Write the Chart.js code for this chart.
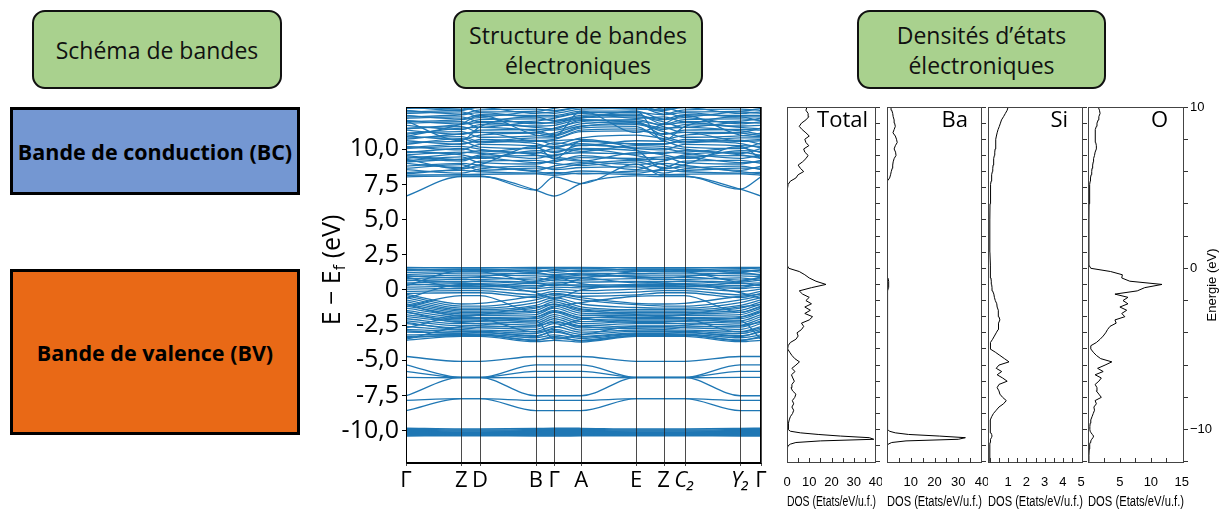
<!DOCTYPE html>
<html>
<head>
<meta charset="utf-8">
<script src="https://cdn.jsdelivr.net/npm/chart.js@4.4.1/dist/chart.umd.min.js"></script>
<style>
  body { margin: 0; width: 1222px; height: 509px; background: #fff; position: relative; overflow: hidden; font-family: 'Open Sans', sans-serif; }
  .tag { position: absolute; top: 10px; height: 79px; box-sizing: border-box; background: #a9d18e; border: 2px solid #111; border-radius: 13px;
         display: flex; align-items: center; justify-content: center; text-align: center; font-size: 23px; line-height: 30px; color: #111; }
  .bande { position: absolute; left: 10px; width: 290px; box-sizing: border-box; border: 3px solid #000;
           display: flex; align-items: center; justify-content: center; font-weight: bold; font-size: 21.5px; color: #000; white-space: nowrap; }
  canvas { position: absolute; }
</style>
</head>
<body>
<div class="tag" style="left:32px;width:250px;">Schéma de bandes</div>
<div class="tag" style="left:453px;width:250px;">Structure de bandes<br>électroniques</div>
<div class="tag" style="left:857px;width:249px;">Densités d’états<br>électroniques</div>

<div class="bande" style="top:107px;height:88px;background:#7497d2;">Bande de conduction (BC)</div>
<div class="bande" style="top:269px;height:166px;background:#e96916;">Bande de valence (BV)</div>

<canvas id="bands" width="470" height="409" style="left:300px;top:100px;"></canvas>
<canvas id="dosTotal" width="103" height="409" style="left:779px;top:100px;"></canvas>
<canvas id="dosBa" width="109" height="409" style="left:879px;top:100px;"></canvas>
<canvas id="dosSi" width="109" height="409" style="left:980px;top:100px;"></canvas>
<canvas id="dosO" width="142" height="409" style="left:1080px;top:100px;"></canvas>

<script>
// ---- structure de bandes : points k et énergies (eV) ----
const kPos = [0, 55.3, 74, 129.7, 148, 175, 230, 257.3, 278.3, 334, 354.7];
const kLabels = ['Γ', 'Z', 'D', 'B', 'Γ', 'A', 'E', 'Z', 'C₂', 'Y₂', 'Γ'];
const yTicks = [-10, -7.5, -5, -2.5, 0, 2.5, 5, 7.5, 10];

// bas de la bande de conduction
const bandsCondLow = [
  [6.67, 8.06, 8.06, 7.10, 6.67, 7.56, 8.10, 8.06, 8.06, 7.16, 6.67],
  [8.04, 8.10, 8.10, 7.10, 8.04, 7.56, 8.95, 8.10, 8.10, 7.16, 8.04]
];
// bandes de conduction denses
const bandsCond = [
  [8.15, 8.20, 8.22, 8.25, 8.15, 8.30, 8.20, 8.20, 8.22, 8.25, 8.15],
  [8.35, 8.50, 8.40, 8.30, 8.35, 8.25, 8.45, 8.50, 8.40, 8.30, 8.35],
  [8.55, 8.30, 8.60, 8.80, 8.55, 8.70, 8.75, 8.30, 8.60, 8.80, 8.55],
  [8.80, 9.00, 8.85, 8.50, 8.80, 9.05, 8.55, 9.00, 8.85, 8.50, 8.80],
  [9.00, 8.70, 9.15, 9.20, 9.00, 8.85, 9.10, 8.70, 9.15, 9.20, 9.00],
  [9.20, 9.45, 9.05, 8.95, 9.20, 9.40, 9.35, 9.45, 9.05, 8.95, 9.20],
  [9.45, 9.15, 9.50, 9.55, 9.45, 9.20, 8.90, 9.15, 9.50, 9.55, 9.45],
  [9.60, 9.80, 9.70, 9.35, 9.60, 9.75, 9.65, 9.80, 9.70, 9.35, 9.60],
  [9.85, 9.60, 9.35, 9.90, 9.85, 10.05, 9.90, 9.60, 9.35, 9.90, 9.85],
  [10.05, 10.20, 10.00, 9.70, 10.05, 9.85, 10.25, 10.20, 10.00, 9.70, 10.05],
  [10.20, 9.95, 10.35, 10.25, 10.20, 10.40, 10.05, 9.95, 10.35, 10.25, 10.20],
  [10.45, 10.55, 10.15, 10.05, 10.45, 10.25, 10.60, 10.55, 10.15, 10.05, 10.45],
  [10.60, 10.35, 10.70, 10.55, 10.60, 10.70, 10.35, 10.35, 10.70, 10.55, 10.60],
  [10.80, 10.90, 10.55, 10.80, 10.80, 11.35, 11.45, 10.90, 10.55, 10.80, 10.80],
  [10.95, 10.70, 11.00, 11.15, 10.95, 11.50, 11.60, 10.70, 11.00, 11.15, 10.95],
  [11.15, 11.25, 10.85, 10.95, 11.15, 11.65, 11.75, 11.25, 10.85, 10.95, 11.15],
  [11.35, 11.05, 11.35, 11.40, 11.35, 11.80, 11.95, 11.05, 11.35, 11.40, 11.35],
  [11.50, 11.60, 11.20, 11.20, 11.50, 11.95, 12.10, 11.60, 11.20, 11.20, 11.50],
  [11.70, 11.40, 11.75, 11.65, 11.70, 12.10, 11.85, 11.40, 11.75, 11.65, 11.70],
  [11.85, 11.95, 11.55, 11.90, 11.85, 12.25, 12.30, 11.95, 11.55, 11.90, 11.85],
  [12.05, 11.80, 12.10, 12.15, 12.05, 12.40, 12.50, 11.80, 12.10, 12.15, 12.05],
  [12.20, 12.30, 11.95, 12.00, 12.20, 12.55, 12.20, 12.30, 11.95, 12.00, 12.20],
  [12.40, 12.15, 12.45, 12.40, 12.40, 12.70, 12.70, 12.15, 12.45, 12.40, 12.40],
  [12.55, 12.65, 12.30, 12.65, 12.55, 12.85, 12.90, 12.65, 12.30, 12.65, 12.55],
  [12.75, 12.50, 12.80, 12.85, 12.75, 13.00, 13.05, 12.50, 12.80, 12.85, 12.75],
  [12.90, 13.00, 12.65, 12.70, 12.90, 13.15, 13.20, 13.00, 12.65, 12.70, 12.90],
  [13.10, 12.85, 13.15, 13.10, 13.10, 13.30, 13.35, 12.85, 13.15, 13.10, 13.10],
  [9.30, 8.60, 8.90, 10.20, 9.30, 10.60, 9.95, 8.60, 8.90, 10.20, 9.30],
  [10.90, 11.80, 12.40, 11.00, 10.90, 12.70, 11.20, 11.80, 12.40, 11.00, 10.90],
  [12.00, 10.60, 11.60, 12.30, 12.00, 12.20, 12.70, 10.60, 11.60, 12.30, 12.00],
  [8.25, 8.60, 8.75, 8.40, 8.25, 8.45, 8.30, 8.60, 8.75, 8.40, 8.25],
  [8.65, 8.90, 8.50, 8.65, 8.65, 8.95, 9.20, 8.90, 8.50, 8.65, 8.65],
  [9.10, 9.30, 9.40, 9.05, 9.10, 9.55, 9.25, 9.30, 9.40, 9.05, 9.10],
  [9.35, 9.70, 9.90, 9.60, 9.35, 9.15, 9.75, 9.70, 9.90, 9.60, 9.35],
  [9.75, 10.05, 9.80, 10.10, 9.75, 10.30, 10.10, 10.05, 9.80, 10.10, 9.75],
  [10.10, 10.40, 10.55, 10.40, 10.10, 10.55, 10.40, 10.40, 10.55, 10.40, 10.10],
  [10.35, 10.75, 10.45, 10.65, 10.35, 10.80, 11.00, 10.75, 10.45, 10.65, 10.35],
  [10.70, 11.10, 11.20, 10.60, 10.70, 11.25, 11.30, 11.10, 11.20, 10.60, 10.70],
  [11.05, 11.50, 11.55, 11.30, 11.05, 11.60, 11.85, 11.50, 11.55, 11.30, 11.05],
  [11.45, 11.75, 11.90, 11.55, 11.45, 12.05, 12.00, 11.75, 11.90, 11.55, 11.45],
  [11.95, 12.10, 12.25, 11.80, 11.95, 12.30, 12.40, 12.10, 12.25, 11.80, 11.95],
  [12.30, 12.45, 12.60, 12.30, 12.30, 12.60, 12.60, 12.45, 12.60, 12.30, 12.30],
  [12.65, 12.80, 12.95, 12.55, 12.65, 12.95, 12.85, 12.80, 12.95, 12.55, 12.65],
  [13.00, 12.75, 13.05, 13.00, 13.00, 13.25, 13.10, 12.75, 13.05, 13.00, 13.00],
  [9.55, 9.25, 9.60, 9.80, 9.55, 10.00, 9.55, 9.25, 9.60, 9.80, 9.55]
];
// bandes de valence
const bandsVal = [
  [1.60, 1.58, 1.58, 1.60, 1.60, 1.60, 1.58, 1.58, 1.58, 1.60, 1.60],
  [1.50, 1.45, 1.45, 1.52, 1.50, 1.50, 1.45, 1.45, 1.45, 1.52, 1.50],
  [1.38, 1.50, 1.50, 1.35, 1.38, 1.32, 1.50, 1.50, 1.50, 1.35, 1.38],
  [1.25, 1.30, 1.30, 1.42, 1.25, 1.40, 1.30, 1.30, 1.30, 1.42, 1.25],
  [1.10, 1.20, 1.20, 1.15, 1.10, 1.20, 1.15, 1.20, 1.20, 1.15, 1.10],
  [0.95, 1.05, 1.05, 1.00, 0.95, 0.90, 1.05, 1.05, 1.05, 1.00, 0.95],
  [0.80, 0.90, 0.90, 0.70, 0.80, 1.05, 0.95, 0.90, 0.90, 0.70, 0.80],
  [0.65, 0.75, 0.75, 0.85, 0.65, 0.70, 0.80, 0.75, 0.75, 0.85, 0.65],
  [0.50, 0.60, 0.60, 0.45, 0.50, 0.55, 0.60, 0.60, 0.60, 0.45, 0.50],
  [0.35, 0.45, 0.45, 0.30, 0.35, 0.35, 0.40, 0.45, 0.45, 0.30, 0.35],
  [0.20, 0.25, 0.25, 0.10, 0.20, 0.15, 0.25, 0.25, 0.25, 0.10, 0.20],
  [0.05, 0.10, 0.10, -0.10, 0.05, -0.05, 0.05, 0.10, 0.10, -0.10, 0.05],
  [-0.10, -0.05, -0.05, -0.35, -0.10, -0.25, -0.15, -0.05, -0.05, -0.35, -0.10],
  [-0.25, -0.20, -0.20, -0.55, -0.25, -0.45, -0.35, -0.20, -0.20, -0.55, -0.25],
  [-0.40, -1.15, -1.15, -0.70, -0.40, -0.70, -1.05, -1.15, -1.15, -0.70, -0.40],
  [-0.55, -1.30, -1.30, -0.90, -0.55, -1.00, -1.25, -1.30, -1.30, -0.90, -0.55],
  [-0.70, -1.40, -1.40, -1.10, -0.70, -1.20, -1.40, -1.40, -1.40, -1.10, -0.70],
  [-0.85, -1.50, -1.50, -1.30, -0.85, -1.35, -1.50, -1.50, -1.50, -1.30, -0.85],
  [-1.00, -1.60, -1.60, -1.45, -1.00, -1.50, -1.60, -1.60, -1.60, -1.45, -1.00],
  [-1.15, -1.70, -1.70, -1.60, -1.15, -1.65, -1.70, -1.70, -1.70, -1.60, -1.15],
  [-1.30, -1.80, -1.80, -1.75, -1.30, -1.80, -1.80, -1.80, -1.80, -1.75, -1.30],
  [-1.45, -1.95, -1.95, -1.90, -1.45, -1.95, -1.95, -1.95, -1.95, -1.90, -1.45],
  [-1.60, -2.05, -2.05, -2.05, -1.60, -2.10, -2.05, -2.05, -2.05, -2.05, -1.60],
  [-1.75, -2.15, -2.15, -2.20, -1.75, -2.25, -2.15, -2.15, -2.15, -2.20, -1.75],
  [-1.90, -2.25, -2.25, -2.35, -1.90, -2.40, -2.25, -2.25, -2.25, -2.35, -1.90],
  [-2.05, -2.40, -2.40, -2.50, -2.05, -2.55, -2.40, -2.40, -2.40, -2.50, -2.05],
  [-2.20, -2.55, -2.55, -2.65, -2.20, -2.70, -2.55, -2.55, -2.55, -2.65, -2.20],
  [-2.40, -2.70, -2.70, -2.80, -2.40, -2.85, -2.70, -2.70, -2.70, -2.80, -2.40],
  [-2.60, -2.85, -2.85, -2.95, -2.60, -3.00, -2.85, -2.85, -2.85, -2.95, -2.60],
  [-2.80, -2.95, -2.95, -3.10, -2.80, -3.15, -2.95, -2.95, -2.95, -3.10, -2.80],
  [-3.00, -3.05, -3.05, -3.25, -3.00, -3.30, -3.05, -3.05, -3.05, -3.25, -3.00],
  [-3.20, -3.15, -3.15, -3.40, -3.20, -3.45, -3.15, -3.15, -3.15, -3.40, -3.20],
  [-3.40, -3.22, -3.22, -3.55, -3.40, -3.58, -3.22, -3.22, -3.22, -3.55, -3.40],
  [-3.58, -3.30, -3.30, -3.68, -3.58, -3.70, -3.30, -3.30, -3.30, -3.68, -3.58],
  [0.90, 0.20, 0.20, 0.60, 0.90, 0.45, 0.20, 0.20, 0.20, 0.60, 0.90],
  [-0.60, 0.40, 0.40, -0.20, -0.60, 0.00, 0.35, 0.40, 0.40, -0.20, -0.60],
  [-1.20, -0.40, -0.40, -1.60, -1.20, -0.90, -0.45, -0.40, -0.40, -1.60, -1.20],
  [-2.70, -1.90, -2.00, -3.00, -2.70, -2.10, -1.85, -1.90, -2.00, -3.00, -2.70],
  [-3.50, -2.60, -2.50, -2.20, -3.50, -3.20, -2.60, -2.60, -2.50, -2.20, -3.50],
  [0.30, 1.35, 1.30, 0.50, 0.30, 0.80, 1.30, 1.35, 1.30, 0.50, 0.30],
  [1.45, 1.35, 1.40, 1.28, 1.45, 1.55, 1.38, 1.35, 1.40, 1.28, 1.45],
  [1.02, 0.85, 0.95, 1.25, 1.02, 1.12, 0.90, 0.85, 0.95, 1.25, 1.02],
  [0.72, 0.55, 0.65, 0.55, 0.72, 0.85, 0.50, 0.55, 0.65, 0.55, 0.72],
  [0.42, 0.30, 0.35, 0.20, 0.42, 0.25, 0.30, 0.30, 0.35, 0.20, 0.42],
  [-0.30, -1.00, -0.95, -0.45, -0.30, -0.55, -0.95, -1.00, -0.95, -0.45, -0.30],
  [-1.05, -1.85, -1.75, -1.20, -1.05, -1.40, -1.75, -1.85, -1.75, -1.20, -1.05],
  [-1.55, -2.30, -2.20, -1.95, -1.55, -2.00, -2.30, -2.30, -2.20, -1.95, -1.55],
  [-2.30, -2.80, -2.65, -2.55, -2.30, -2.60, -2.75, -2.80, -2.65, -2.55, -2.30],
  [-2.90, -3.10, -3.00, -3.30, -2.90, -3.35, -3.10, -3.10, -3.00, -3.30, -2.90],
  [-3.30, -3.25, -3.20, -3.60, -3.30, -3.62, -3.25, -3.25, -3.20, -3.60, -3.30]
];
// bandes isolées entre -4,7 et -8,6 eV
const bandsSemi = [
  [-4.73, -5.08, -5.08, -4.73, -4.73, -4.73, -5.08, -5.08, -5.08, -4.73, -4.73],
  [-5.32, -6.22, -6.22, -5.32, -5.32, -5.32, -6.22, -6.22, -6.22, -5.32, -5.32],
  [-5.79, -6.22, -6.22, -5.79, -5.79, -5.79, -6.22, -6.22, -6.22, -5.79, -5.79],
  [-6.22, -6.24, -6.24, -6.22, -6.22, -6.22, -6.24, -6.24, -6.24, -6.22, -6.22],
  [-7.52, -6.22, -6.22, -7.52, -7.52, -7.52, -6.22, -6.22, -6.22, -7.52, -7.52],
  [-7.85, -7.73, -7.73, -7.85, -7.85, -7.85, -7.73, -7.73, -7.73, -7.85, -7.85],
  [-8.58, -7.73, -7.73, -8.58, -8.58, -8.58, -7.73, -7.73, -7.73, -8.58, -8.58]
];
// bandes Ba 5p vers -10 eV
const bandsBa5p = [
  [-9.83, -9.88, -9.88, -9.85, -9.83, -9.84, -9.88, -9.88, -9.88, -9.85, -9.83],
  [-9.90, -9.96, -9.96, -9.92, -9.90, -9.91, -9.96, -9.96, -9.96, -9.92, -9.90],
  [-9.97, -10.03, -10.03, -9.99, -9.97, -9.98, -10.03, -10.03, -10.03, -9.99, -9.97],
  [-10.04, -10.09, -10.09, -10.06, -10.04, -10.05, -10.09, -10.09, -10.09, -10.06, -10.04],
  [-10.11, -10.15, -10.15, -10.12, -10.11, -10.11, -10.15, -10.15, -10.15, -10.12, -10.11],
  [-10.18, -10.21, -10.21, -10.19, -10.18, -10.18, -10.21, -10.21, -10.21, -10.19, -10.18],
  [-10.25, -10.27, -10.27, -10.26, -10.25, -10.25, -10.27, -10.27, -10.27, -10.26, -10.25],
  [-10.33, -10.31, -10.31, -10.33, -10.33, -10.32, -10.31, -10.31, -10.31, -10.33, -10.33],
  [-10.38, -10.36, -10.36, -10.38, -10.38, -10.37, -10.36, -10.36, -10.36, -10.38, -10.38]
];

// ---- densités d'états : grille en énergie (eV) et DOS (états/eV/u.f.) ----
const dosE = [
  -12.0, -11.6, -11.2, -11.0,
  -10.9, -10.8, -10.7, -10.6, -10.5, -10.4, -10.3, -10.2, -10.1, -10.0,
  -9.8, -9.6, -9.4, -9.2, -9.0, -8.8, -8.6, -8.4, -8.2, -8.0,
  -7.8, -7.6, -7.4, -7.2, -7.0, -6.8, -6.6, -6.4, -6.2, -6.0,
  -5.8, -5.6, -5.4, -5.2, -5.0, -4.8, -4.6, -4.4, -4.2, -4.0,
  -3.8, -3.6, -3.4, -3.2, -3.0, -2.8, -2.6, -2.4, -2.2, -2.0,
  -1.8, -1.6, -1.4, -1.2, -1.0, -0.8, -0.6, -0.4, -0.2, 0.0,
  0.2, 1.0, 2.0, 3.0, 4.0, 4.8,
  5.2, 5.4, 5.6, 5.8, 6.0, 6.2, 6.4, 6.6, 6.8, 7.0,
  7.2, 7.4, 7.6, 7.8, 8.0, 8.2, 8.4, 8.6, 8.8, 9.0,
  9.2, 9.4, 9.6, 9.8, 10.0
];
const dosTotal = [
  0, 0, 0.1, 0.5,
  1.5, 4, 15, 39, 37, 24, 14, 6, 1.5, 0.6,
  0.5, 0.8, 1.0, 1.5, 2.5, 3.0, 2.2, 3.0, 2.4, 3.5,
  4.0, 2.5, 1.8, 2.2, 3.3, 2.6, 2.0, 3.6, 2.2, 4.0,
  5.6, 3.5, 2.2, 1.2, 0.3, 0.5, 1.5, 4.0, 5.0, 4.5,
  6.5, 7.5, 6.5, 10.0, 11.5, 8.0, 10.5, 8.0, 11.0, 8.5,
  10.0, 7.0, 5.5, 11.0, 17.5, 13.0, 10.0, 8.0, 5.5, 0.8,
  0, 0, 0, 0, 0.05, 0.2,
  0.5, 1.5, 4.0, 5.0, 7.5, 6.0, 5.0, 7.0, 8.5, 9.5,
  8.0, 7.5, 9.8, 8.5, 8.0, 10.0, 8.5, 6.8, 5.5, 6.5,
  8.5, 9.8, 9.5, 8.5, 9.0
];
const dosBa = [
  0, 0, 0, 0.2,
  0.5, 2, 8, 30, 33, 22, 9, 3.5, 1, 0.4,
  0.2, 0.2, 0.2, 0.2, 0.2, 0.2, 0.2, 0.2, 0.2, 0.2,
  0.2, 0.2, 0.2, 0.2, 0.2, 0.2, 0.2, 0.2, 0.2, 0.2,
  0.2, 0.2, 0.2, 0.2, 0.2, 0.2, 0.2, 0.3, 0.3, 0.3,
  0.3, 0.3, 0.3, 0.35, 0.35, 0.3, 0.35, 0.3, 0.35, 0.3,
  0.35, 0.3, 0.4, 0.6, 0.8, 0.6, 0.4, 0.3, 0.2, 0.05,
  0, 0, 0, 0, 0, 0.02,
  0.05, 0.3, 1.1, 1.5, 1.8, 2.2, 2.4, 2.6, 3.0, 3.8,
  3.6, 3.0, 3.5, 4.3, 4.0, 3.5, 2.5, 3.0, 3.5, 3.2,
  3.0, 2.6, 2.4, 2.0, 1.7
];
const dosSi = [
  0, 0, 0, 0,
  0, 0.01, 0.02, 0.05, 0.09, 0.12, 0.1, 0.06, 0.03, 0.02,
  0.02, 0.02, 0.04, 0.1, 0.2, 0.35, 0.5, 0.75, 0.9, 0.7,
  0.55, 0.5, 0.4, 0.5, 0.95, 0.7, 0.4, 0.65, 0.35, 0.5,
  1.05, 0.8, 0.55, 0.3, 0.02, 0.02, 0.05, 0.15, 0.25, 0.35,
  0.45, 0.5, 0.45, 0.55, 0.5, 0.45, 0.48, 0.4, 0.38, 0.3,
  0.25, 0.22, 0.15, 0.12, 0.1, 0.08, 0.06, 0.05, 0.04, 0.02,
  0.01, 0.005, 0, 0, 0.01, 0.03,
  0.05, 0.07, 0.09, 0.11, 0.14, 0.16, 0.18, 0.2, 0.22, 0.25,
  0.27, 0.29, 0.31, 0.33, 0.33, 0.36, 0.4, 0.45, 0.52, 0.58,
  0.64, 0.75, 0.85, 0.95, 1.0
];
const dosO = [
  0, 0, 0.05, 0.1,
  0.15, 0.2, 0.3, 0.45, 0.65, 0.75, 0.55, 0.35, 0.2, 0.15,
  0.15, 0.2, 0.3, 0.5, 0.7, 0.9, 0.8, 1.2, 1.0, 2.0,
  1.6, 1.2, 1.3, 1.0, 1.6, 2.0, 1.0, 2.3, 1.4, 2.6,
  3.7, 1.9, 1.2, 0.7, 0.3, 0.3, 1.2, 1.8, 2.3, 2.7,
  3.0, 3.4, 4.4, 4.2, 5.8, 5.3, 6.1, 5.0, 6.3, 5.5,
  6.3, 4.2, 7.8, 9.0, 11.8, 6.6, 5.3, 5.4, 3.5, 0.3,
  0, 0, 0, 0, 0.02, 0.08,
  0.15, 0.2, 0.25, 0.35, 0.45, 0.5, 0.6, 0.7, 0.75, 0.9,
  1.0, 1.2, 1.2, 1.1, 1.0, 1.0, 1.0, 1.1, 1.2, 1.3,
  1.5, 1.6, 1.8, 1.7, 1.5
];
const dosTickLabels = {
  total: [0, 10, 20, 30, 40],
  ba: [10, 20, 30, 40],
  si: [1, 2, 3, 4, 5],
  o: [5, 10, 15]
};
const energyTickLabels = [-10, -5, 0, 5, 10];

Chart.defaults.font.family = "'Open Sans', sans-serif";
Chart.defaults.color = '#000';
const narrow = "'Liberation Sans Narrow', 'Liberation Sans', sans-serif";

// cadre autour de la zone du graphe
const frame = {
  id: 'frame',
  afterDraw(chart, args, opts) {
    const { ctx, chartArea: a } = chart;
    ctx.save();
    ctx.strokeStyle = opts.color || '#000';
    ctx.lineWidth = 1;
    ctx.strokeRect(Math.round(a.left) + 0.5, Math.round(a.top) + 0.5, Math.round(a.width) - 1, Math.round(a.height) - 1);
    ctx.restore();
  }
};

// lignes verticales aux points de haute symétrie, par-dessus les bandes
const kLines = {
  id: 'kLines',
  afterDatasetsDraw(chart) {
    const { ctx, chartArea: a, scales: { x } } = chart;
    ctx.save();
    ctx.strokeStyle = 'rgba(30,30,30,0.8)';
    ctx.lineWidth = 1;
    kPos.forEach(k => {
      const px = Math.round(x.getPixelForValue(k)) + 0.5;
      ctx.beginPath();
      ctx.moveTo(px, a.top);
      ctx.lineTo(px, a.bottom + 3);
      ctx.stroke();
    });
    ctx.restore();
  }
};

// titre de l'axe y avec l'indice f
const yTitle = {
  id: 'yTitle',
  afterDraw(chart) {
    const ctx = chart.ctx;
    const big = "25px 'Open Sans'", small = "16px 'Open Sans'";
    const parts = [['E − E', big, 0], ['f', small, 7], [' (eV)', big, 0]];
    ctx.save();
    ctx.translate(33, 170);
    ctx.rotate(-Math.PI / 2);
    ctx.fillStyle = '#000';
    ctx.textBaseline = 'middle';
    let w = 0;
    parts.forEach(p => { ctx.font = p[1]; w += ctx.measureText(p[0]).width; });
    let x = -w / 2;
    parts.forEach(p => { ctx.font = p[1]; ctx.fillText(p[0], x, p[2]); x += ctx.measureText(p[0]).width; });
    ctx.restore();
  }
};

const bandStyle = { borderColor: '#1f77b4', borderWidth: 1.3, pointRadius: 0, showLine: true, cubicInterpolationMode: 'monotone' };
const allBands = [...bandsCondLow, ...bandsCond, ...bandsVal, ...bandsSemi];

new Chart(document.getElementById('bands'), {
  type: 'scatter',
  data: {
    datasets: allBands.map(b => ({ ...bandStyle, data: b.map((e, i) => ({ x: kPos[i], y: e })) }))
      .concat(bandsBa5p.map(b => ({ ...bandStyle, borderWidth: 1.5, data: b.map((e, i) => ({ x: kPos[i], y: e })) })))
  },
  options: {
    responsive: false,
    animation: false,
    layout: { padding: { top: 7, right: 9, left: 0, bottom: 0 } },
    plugins: { legend: { display: false }, tooltip: { enabled: false }, frame: { color: '#000' } },
    scales: {
      x: {
        type: 'linear', min: 0, max: kPos[kPos.length - 1],
        afterBuildTicks: s => { s.ticks = kPos.map(v => ({ value: v })); },
        afterFit: s => { s.height = 46; s.paddingLeft = 0; s.paddingRight = 0; },
        grid: { drawOnChartArea: false, drawTicks: false },
        border: { color: '#000' },
        ticks: {
          autoSkip: false, maxRotation: 0, padding: 5,
          callback: (v, i) => kLabels[i],
          font: c => ({ family: "'Open Sans'", size: 22, style: (c.index === 8 || c.index === 9) ? 'italic' : 'normal' })
        }
      },
      y: {
        min: -12.3, max: 13,
        afterBuildTicks: s => { s.ticks = yTicks.map(v => ({ value: v })); },
        afterFit: s => { s.width = 106; s.paddingTop = 0; s.paddingBottom = 0; },
        grid: { drawOnChartArea: false, drawTicks: true, tickLength: 4, color: '#000' },
        border: { color: '#000' },
        ticks: {
          padding: 3, font: { size: 25 },
          callback: v => v === 0 ? '0' : v.toFixed(1).replace('.', ',')
        }
      }
    }
  },
  plugins: [kLines, frame, yTitle]
});

// petites graduations vers l'intérieur en bas de chaque panneau DOS
const innerTicks = {
  id: 'innerTicks',
  afterDraw(chart) {
    const { ctx, chartArea: a, scales: { x } } = chart;
    ctx.save();
    ctx.strokeStyle = '#333';
    ctx.lineWidth = 1;
    x.ticks.forEach(t => {
      const px = Math.round(x.getPixelForValue(t.value)) + 0.5;
      if (px <= a.left + 2 || px >= a.right - 2) return;
      ctx.beginPath();
      ctx.moveTo(px, a.bottom);
      ctx.lineTo(px, a.bottom - 5);
      ctx.stroke();
    });
    ctx.restore();
  }
};

// nom du panneau (Total, Ba, Si, O) et titre de l'axe des énergies
const panelName = {
  id: 'panelName',
  afterDraw(chart, args, opts) {
    const { ctx, chartArea: a } = chart;
    ctx.save();
    ctx.font = "22px 'Open Sans'";
    ctx.fillStyle = '#000';
    ctx.textAlign = 'right';
    ctx.textBaseline = 'middle';
    ctx.fillText(opts.text, a.right - opts.dx, a.top + 14);
    if (opts.energyTitle) {
      ctx.font = "13px " + narrow;
      ctx.translate(a.right + 28, 185);
      ctx.rotate(-Math.PI / 2);
      ctx.textAlign = 'center';
      ctx.fillText('Energie (eV)', 0, 0);
    }
    ctx.restore();
  }
};

function dosChart(id, values, xMin, xMax, step, labels, name, dx, last) {
  return new Chart(document.getElementById(id), {
    type: 'scatter',
    data: {
      datasets: [{
        data: values.map((d, i) => ({ x: d, y: dosE[i] })),
        showLine: true, borderColor: '#000', borderWidth: 1, pointRadius: 0, tension: 0
      }]
    },
    options: {
      responsive: false,
      animation: false,
      layout: { padding: { top: 7, left: 8, right: 0, bottom: 0 } },
      plugins: {
        legend: { display: false }, tooltip: { enabled: false },
        frame: { color: '#444' },
        panelName: { text: name, dx: dx, energyTitle: last }
      },
      scales: {
        x: {
          type: 'linear', min: xMin, max: xMax,
          afterFit: s => { s.height = 46; s.paddingLeft = 0; s.paddingRight = 0; },
          grid: { display: false },
          border: { display: false },
          ticks: {
            stepSize: step, includeBounds: false, autoSkip: false, maxRotation: 0, padding: 4,
            font: { family: narrow, size: 13 },
            callback: v => labels.some(l => Math.abs(l - v) < 1e-6) ? String(v) : ''
          },
          title: { display: true, text: 'DOS (Etats/eV/u.f.)', font: { family: narrow, size: 14, lineHeight: 1 }, padding: { top: 0, bottom: 0 } }
        },
        y: {
          position: 'right', min: -12.07, max: 10,
          afterFit: s => { s.width = last ? 38 : 6; s.paddingTop = 0; s.paddingBottom = 0; },
          grid: { drawOnChartArea: false, drawTicks: true, tickLength: 4, color: '#333' },
          border: { display: false },
          ticks: {
            stepSize: 1, includeBounds: false, padding: 2, display: last,
            font: { family: narrow, size: 13 },
            callback: v => energyTickLabels.includes(v) ? String(v).replace('-', '−') : ''
          }
        }
      }
    },
    plugins: [frame, innerTicks, panelName]
  });
}

dosChart('dosTotal', dosTotal, 0, 40, 5, dosTickLabels.total, 'Total', 8, false);
dosChart('dosBa', dosBa, 0, 40, 5, dosTickLabels.ba, 'Ba', 14, false);
dosChart('dosSi', dosSi, -0.1, 5.1, 0.5, dosTickLabels.si, 'Si', 15, false);
dosChart('dosO', dosO, -0.15, 15.35, 2.5, dosTickLabels.o, 'O', 16, true);
</script>
</body>
</html>
